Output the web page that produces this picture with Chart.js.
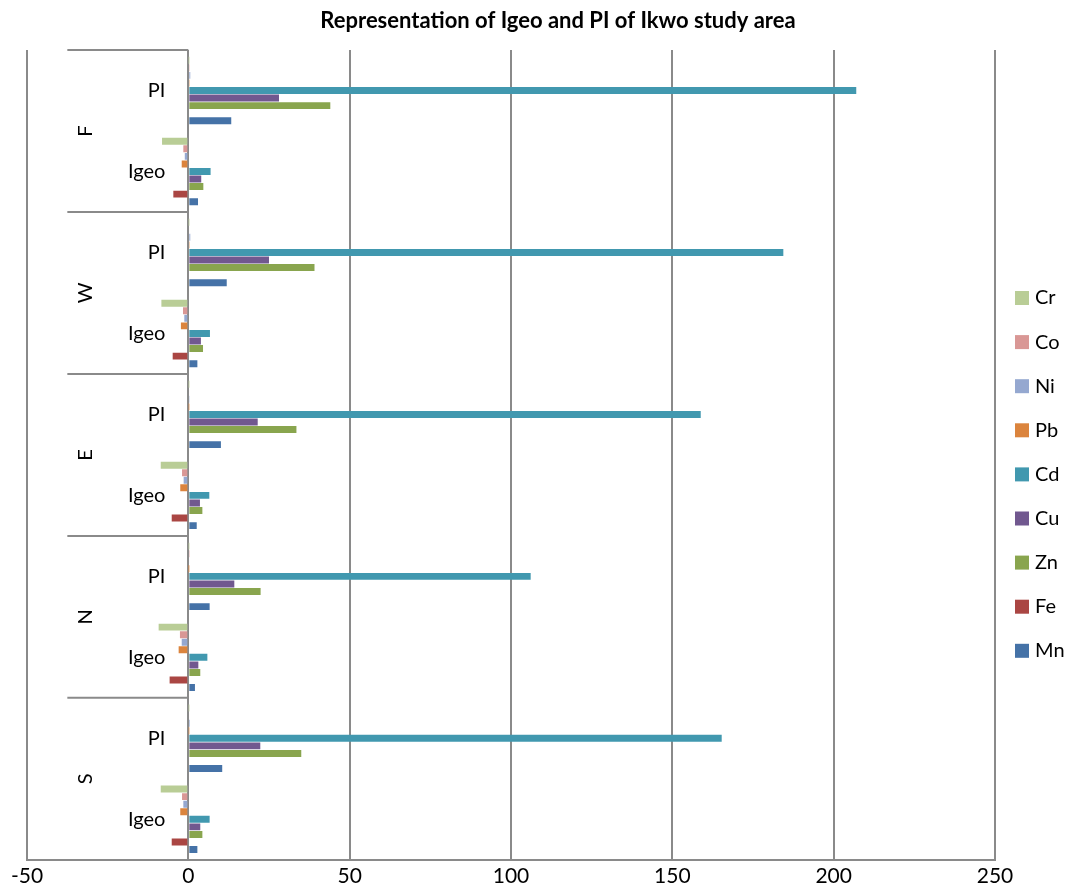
<!DOCTYPE html>
<html>
<head>
<meta charset="utf-8">
<script src="https://cdn.jsdelivr.net/npm/chart.js@4.4.0/dist/chart.umd.min.js"></script>
<style>
html, body { margin: 0; padding: 0; background: #fff; }
#wrap { width: 1073px; height: 893px; position: relative; }
</style>
</head>
<body>
<div id="wrap"><canvas id="myChart"></canvas></div>
<script>
// groups top to bottom, two indices in each
const groups = ['F', 'W', 'E', 'N', 'S'];
const indices = ['PI', 'Igeo'];
const metals = ['Cr', 'Co', 'Ni', 'Pb', 'Cd', 'Cu', 'Zn', 'Fe', 'Mn'];
const colors = ['#B9CD96', '#D99795', '#95A8D0', '#DB843D', '#4198AF', '#71588F', '#89A54E', '#AA4643', '#4572A7'];
const xTicks = [-50, 0, 50, 100, 150, 200, 250];

// rows: F-PI, F-Igeo, W-PI, W-Igeo, E-PI, E-Igeo, N-PI, N-Igeo, S-PI, S-Igeo
const Cr = [0.1, -8.15, 0.1, -8.35, 0.1, -8.55, 0.1, -9.2, 0.1, -8.55];
const Co = [0.4, -1.55, 0.3, -1.65, 0.3, -1.95, 0.2, -2.6, 0.3, -1.95];
const Ni = [0.6, -1.1, 0.6, -1.25, 0.4, -1.45, 0.3, -2.05, 0.5, -1.55];
const Pb = [0.2, -2.05, 0.2, -2.3, 0.1, -2.5, 0.05, -3.0, 0.1, -2.5];
const Cd = [207.0, 6.9, 184.4, 6.7, 158.8, 6.5, 106.1, 5.9, 165.3, 6.6];
const Cu = [28.1, 4.0, 25.0, 3.9, 21.5, 3.6, 14.25, 3.1, 22.3, 3.7];
const Zn = [44.0, 4.65, 39.1, 4.55, 33.5, 4.35, 22.4, 3.7, 35.0, 4.35];
const Fe = [0, -4.65, 0, -4.85, 0, -5.15, 0, -5.8, 0, -5.15];
const Mn = [13.3, 3.0, 11.9, 2.8, 10.1, 2.6, 6.6, 2.05, 10.5, 2.8];

const series = [Cr, Co, Ni, Pb, Cd, Cu, Zn, Fe, Mn];
const rowLabels = groups.flatMap(g => indices);

Chart.defaults.font.family = 'Lato';
Chart.defaults.color = '#000';

const gridGray = '#8a8a8a';

// category labels, group labels and separators, title and legend
const sideLabels = {
    id: 'sideLabels',
    afterDraw(chart) {
        const ctx = chart.ctx;
        const area = chart.chartArea;
        const x = chart.scales.x;
        const y = chart.scales.y;
        const x0 = x.getPixelForValue(0);
        ctx.save();
        ctx.fillStyle = '#000';
        ctx.font = '20px Lato';
        ctx.textAlign = 'right';
        ctx.textBaseline = 'middle';
        rowLabels.forEach((lab, i) => {
            ctx.fillText(lab, x0 - 23, y.getPixelForValue(i));
        });
        ctx.strokeStyle = gridGray;
        ctx.lineWidth = 2;
        groups.forEach((g, gi) => {
            let top = area.top;
            if (gi > 0) top = (y.getPixelForValue(gi * 2 - 1) + y.getPixelForValue(gi * 2)) / 2;
            let bottom = area.bottom;
            if (gi < groups.length - 1) bottom = (y.getPixelForValue(gi * 2 + 1) + y.getPixelForValue(gi * 2 + 2)) / 2;
            ctx.beginPath();
            ctx.moveTo(x0 - 121, top);
            ctx.lineTo(x0, top);
            ctx.stroke();
            ctx.save();
            ctx.translate(x0 - 103, (top + bottom) / 2);
            ctx.rotate(-Math.PI / 2);
            ctx.textAlign = 'center';
            ctx.fillText(g, 0, 0);
            ctx.restore();
        });
        // title
        ctx.font = 'bold 22px Lato';
        ctx.textAlign = 'center';
        ctx.fillText('Representation of Igeo and PI of Ikwo study area', 558, 21);
        // legend
        ctx.font = '20px Lato';
        ctx.textAlign = 'left';
        chart.data.datasets.forEach((ds, i) => {
            const ly = 298 + i * 44.1;
            ctx.fillStyle = ds.backgroundColor;
            ctx.fillRect(1015, ly - 7, 14, 14);
            ctx.fillStyle = '#000';
            ctx.fillText(ds.label, 1035, ly);
        });
        ctx.restore();
    }
};

const data = {
    labels: rowLabels,
    datasets: metals.map((m, i) => ({
        label: m,
        data: series[i],
        backgroundColor: colors[i],
        borderWidth: 0,
        barPercentage: 0.92,
        categoryPercentage: 0.84
    }))
};

const config = {
    type: 'bar',
    data: data,
    options: {
        indexAxis: 'y',
        responsive: true,
        maintainAspectRatio: false,
        animation: false,
        layout: { padding: { top: 50, right: 78, left: 27, bottom: 0 } },
        plugins: {
            legend: { display: false },
            title: { display: false },
            tooltip: { enabled: false }
        },
        scales: {
            x: {
                min: -50,
                max: 250,
                afterBuildTicks: axis => { axis.ticks = xTicks.map(v => ({ value: v })); },
                ticks: { font: { size: 21 }, padding: 4, color: '#000' },
                grid: { color: gridGray, lineWidth: 2, drawTicks: false },
                border: { display: true, color: gridGray, width: 2 }
            },
            y: {
                display: false
            }
        }
    },
    plugins: [sideLabels]
};

const chart = new Chart(document.getElementById('myChart'), config);
</script>
</body>
</html>
